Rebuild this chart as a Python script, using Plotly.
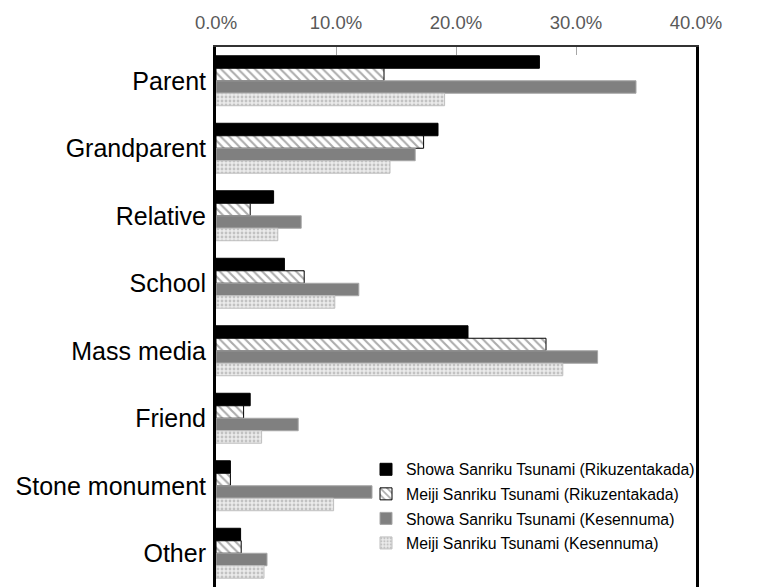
import plotly.graph_objects as go

categories = ["Parent", "Grandparent", "Relative", "School", "Mass media",
              "Friend", "Stone monument", "Other"]
series_names = ["Showa Sanriku Tsunami (Rikuzentakada)",
                "Meiji Sanriku Tsunami (Rikuzentakada)",
                "Showa Sanriku Tsunami (Kesennuma)",
                "Meiji Sanriku Tsunami (Kesennuma)"]
showa_rikuzentakada = [26.95, 18.5, 4.8, 5.7, 21.0, 2.85, 1.2, 2.05]
meiji_rikuzentakada = [14.0, 17.3, 2.85, 7.35, 27.5, 2.3, 1.2, 2.1]
showa_kesennuma = [35.0, 16.6, 7.1, 11.9, 31.8, 6.85, 13.0, 4.25]
meiji_kesennuma = [19.05, 14.5, 5.15, 9.9, 28.9, 3.8, 9.8, 4.0]
tick_values = [0, 10, 20, 30, 40]
tick_labels = ["0.0%", "10.0%", "20.0%", "30.0%", "40.0%"]

values = [showa_rikuzentakada, meiji_rikuzentakada, showa_kesennuma, meiji_kesennuma]
styles = [
    dict(color="#000000", line=dict(color="#000000", width=1)),
    dict(color="#FFFFFF", line=dict(color="#000000", width=1),
         pattern=dict(shape="\\", fgcolor="#595959", bgcolor="#FFFFFF", size=6, solidity=0.35)),
    dict(color="#808080", line=dict(color="#A6A6A6", width=1)),
    dict(color="#E6E6E6", line=dict(color="#BFBFBF", width=1),
         pattern=dict(shape=".", fgcolor="#9A9A9A", bgcolor="#EBEBEB", size=4, solidity=0.4)),
]

fig = go.Figure()
for i, (name, vals, st) in enumerate(zip(series_names, values, styles)):
    fig.add_trace(go.Bar(
        y=categories, x=vals, name=name, orientation="h",
        marker=st, legendgroup=f"g{i}",
    ))

fig.update_layout(
    width=757, height=587,
    margin=dict(l=216, r=61, t=47, b=0),
    paper_bgcolor="white", plot_bgcolor="white",
    barmode="group", bargap=0.26, bargroupgap=0,
    font=dict(family="Liberation Sans, Arial, sans-serif", color="#000000"),
    showlegend=True,
    legend=dict(x=0.3125, y=0.249, xanchor="left", yanchor="top",
                bgcolor="rgba(0,0,0,0)", font=dict(size=15.8, color="#000000"),
                traceorder="grouped", tracegroupgap=1),
    xaxis=dict(side="top", range=[0, 40], tickvals=tick_values, ticktext=tick_labels,
               showgrid=False, zeroline=False, ticks="inside", ticklen=8,
               tickcolor="#A6A6A6", tickwidth=1,
               showline=True, linecolor="#333333", linewidth=2,
               tickfont=dict(size=18.5, color="#595959"), ticklabelstandoff=9),
    yaxis=dict(categoryorder="array", categoryarray=categories, autorange="reversed",
               showgrid=False, zeroline=False, ticks="",
               showline=True, linecolor="#000000", linewidth=3, mirror=True,
               tickfont=dict(size=25, color="#000000"), ticklabelstandoff=2),
)

fig.write_html("out.html")
